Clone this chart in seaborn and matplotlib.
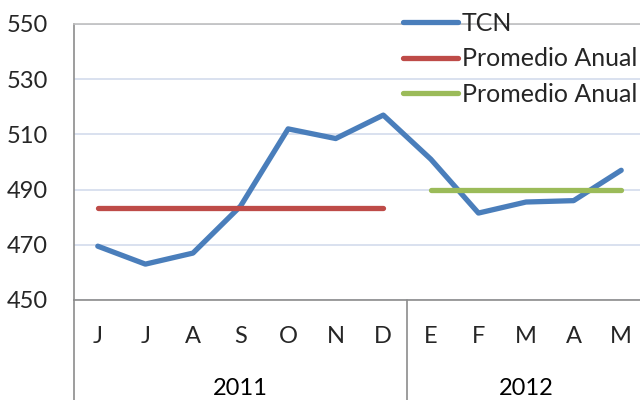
import numpy as np
import pandas as pd
import matplotlib
matplotlib.use("Agg")
import matplotlib.pyplot as plt
import seaborn as sns

# data
months = ["J", "J", "A", "S", "O", "N", "D", "E", "F", "M", "A", "M"]
years = ["2011", "2012"]
year_sizes = [7, 5]
tcn = [469.5, 463.0, 467.0, 484.0, 512.0, 508.5, 517.0, 501.0, 481.5, 485.5, 486.0, 497.0]
avg_2011 = 483.5
avg_2012 = 490.0
series_labels = ["TCN", "Promedio Anual", "Promedio Anual"]

blue = "#4A7EBB"
red = "#BE4B48"
green = "#9BBB59"
axis_grey = "#8C8C8C"

sns.set_theme(style="white")
plt.rcParams["font.family"] = ["Lato", "DejaVu Sans"]

x = np.arange(len(months))
df = pd.DataFrame({"x": x, "tcn": tcn})
x11 = x[:year_sizes[0]]
x12 = x[year_sizes[0]:]

fig = plt.figure(figsize=(6.4, 4), dpi=100)
ax = fig.add_axes([74 / 640, 0.25, 571 / 640, 0.69])

lw = 3.8
sns.lineplot(data=df, x="x", y="tcn", ax=ax, color=blue, linewidth=lw,
             label=series_labels[0], solid_capstyle="round", solid_joinstyle="round")
sns.lineplot(x=x11, y=[avg_2011] * len(x11), ax=ax, color=red, linewidth=lw,
             label=series_labels[1], solid_capstyle="round")
sns.lineplot(x=x12, y=[avg_2012] * len(x12), ax=ax, color=green, linewidth=lw,
             label=series_labels[2], solid_capstyle="round")

ax.set_xlim(-0.5, len(months) - 0.5)
ax.set_ylim(450, 550)
ax.set_yticks(np.arange(450, 551, 20))
ax.yaxis.grid(True, color="#D3DCEC", linewidth=1.2)
ax.set_axisbelow(True)
ax.tick_params(axis="y", length=6, width=1.2, color=axis_grey, pad=13, labelsize=17)
ax.set_xlabel("")
ax.set_ylabel("")

# month labels as ticks, separators as minor ticks
ax.set_xticks(x, months)
ax.tick_params(axis="x", which="major", length=0, pad=19, labelsize=17)
ax.set_xticks(np.arange(-0.5, len(months), 1.0), minor=True)
ax.tick_params(axis="x", which="minor", length=37.5, width=1.2, color=axis_grey)

# year group separators and labels
bounds = np.concatenate([[0], np.cumsum(year_sizes)]) - 0.5
for b in bounds[:-1]:
    ax.axvline(b, ymin=-0.37, ymax=0, color=axis_grey, linewidth=1.2, clip_on=False)
for yr, lo, hi in zip(years, bounds[:-1], bounds[1:]):
    ax.text((lo + hi) / 2, -0.32, yr, transform=ax.get_xaxis_transform(),
            ha="center", va="center", fontsize=17, color="black")

ax.spines["right"].set_visible(False)
ax.spines["top"].set_color("#BFBFBF")
ax.spines["left"].set_color(axis_grey)
ax.spines["bottom"].set_color(axis_grey)
for s in ["top", "left", "bottom"]:
    ax.spines[s].set_linewidth(1.2)

leg = ax.legend(loc="upper left", bbox_to_anchor=(403 / 640, 1 - 12 / 400),
                bbox_transform=fig.transFigure, frameon=False, fontsize=18,
                handlelength=2.2, handletextpad=0.15, labelspacing=0.5,
                borderpad=0, borderaxespad=0)

fig.savefig("out.png", dpi=100)
